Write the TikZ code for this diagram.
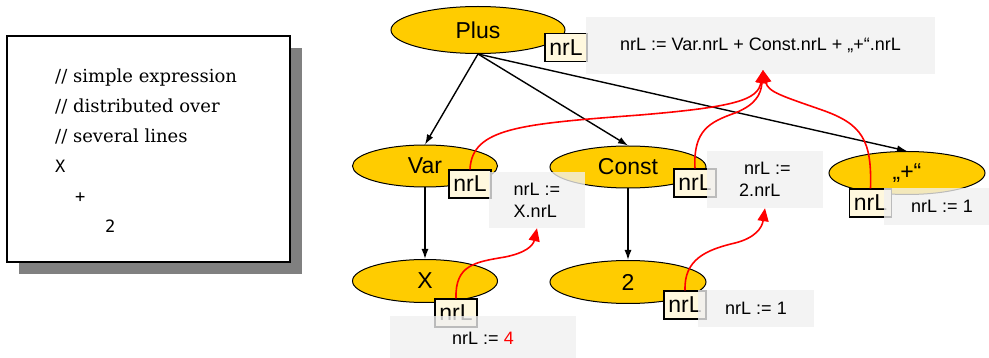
\documentclass[tikz,border=0pt]{standalone}
\usepackage{fontspec}
\setmainfont{Liberation Sans}
\newfontfamily\codeserif{DejaVu Serif}
\newfontfamily\codemono{DejaVu Sans Mono}
\usetikzlibrary{shapes.geometric,arrows.meta}
\definecolor{gold}{RGB}{255,204,0}
\definecolor{cream}{RGB}{255,248,222}
\definecolor{lgray}{RGB}{240,240,240}
\definecolor{shadowgray}{RGB}{128,128,128}
\begin{document}
\begin{tikzpicture}[x=1pt,y=-1pt,
  nodeell/.style={ellipse, draw=black, line width=1pt, fill=gold, inner sep=0pt, font=\fontsize{23}{26}\selectfont},
  attrbox/.style={rectangle, draw=black, line width=1.3pt, fill=cream, minimum width=42pt, minimum height=28pt, inner sep=0pt, font=\fontsize{23}{26}\selectfont},
  rulebox/.style={rectangle, fill=lgray, fill opacity=0.78, text opacity=1, inner sep=0pt, font=\fontsize{18}{22}\selectfont, align=left},
  tree/.style={-{Latex[length=10pt,width=7pt]}, line width=1.4pt},
  flow/.style={-{Triangle[length=13pt,width=11pt]}, red, line width=1.6pt},
  codeline/.style={anchor=base west, inner sep=0pt, font=\codeserif\fontsize{18}{22}\selectfont},
  monoline/.style={anchor=base west, inner sep=0pt, font=\codemono\fontsize{17}{20}\selectfont}]
\useasboundingbox (0,0) rectangle (989,358);
% code box
\fill[shadowgray] (19,48) rectangle (302,274);
\draw[line width=1.6pt, fill=white] (7,36) rectangle (290,262);
\node[codeline] (c1) at (55,83) {// simple expression};
\node[codeline] (c2) at (55,113) {// distributed over};
\node[codeline] (c3) at (55,143) {// several lines};
\node[monoline] (c4) at (55,173) {X};
\node[monoline] (c5) at (75,203) {+};
\node[monoline] (c6) at (105,233) {2};
% tree nodes
\node[nodeell, minimum width=174pt, minimum height=47pt] (plus) at (478,30) {Plus};
\node[nodeell, minimum width=145pt, minimum height=42pt] (var) at (425,166) {Var};
\node[nodeell, minimum width=156pt, minimum height=42pt] (const) at (628,167) {Const};
\node[nodeell, minimum width=156pt, minimum height=43pt] (plusq) at (907,173) {„+“};
\node[nodeell, minimum width=145pt, minimum height=43pt] (x) at (425,281) {X};
\node[nodeell, minimum width=156pt, minimum height=43pt] (two) at (628,282) {2};
% tree edges
\draw[tree] (plus.south) -- (var.north);
\draw[tree] (plus.south) -- (const.north);
\draw[tree] (plus.south) -- (plusq.north);
\draw[tree] (var.south) -- (x.north);
\draw[tree] (const.south) -- (two.north);
% attribute boxes
\node[attrbox] (nplus) at (566,47.5) {nrL};
\node[attrbox] (nvar) at (470,184) {nrL};
\node[attrbox] (nconst) at (695,183) {nrL};
\node[attrbox] (nplusq) at (870.5,203) {nrL};
\node[attrbox] (nx) at (456,313) {nrL};
\node[attrbox] (ntwo) at (685,305) {nrL};
% rule boxes
\node[rulebox, minimum width=349pt, minimum height=57pt] (gplus) at (760.5,45.5) {nrL := Var.nrL + Const.nrL + „+“.nrL};
\node[rulebox, minimum width=96pt, minimum height=56pt] (gvar) at (537,200) {nrL :=\\X.nrL};
\node[rulebox, minimum width=116pt, minimum height=57pt] (gconst) at (765,179.5) {\hspace*{5pt}nrL :=\\2.nrL};
\node[rulebox, minimum width=116pt, minimum height=37pt] (gplusq) at (942,206.5) {nrL := 1};
\node[rulebox, minimum width=186pt, minimum height=44pt] (gx) at (483,338) {nrL := \textcolor{red}{4}};
\node[rulebox, minimum width=116pt, minimum height=37pt] (gtwo) at (756,308.5) {nrL := 1};
\coordinate (tipP) at (763,70);
% attribute flow
\draw[flow] (nvar.north) .. controls (472,128) and (520,124) .. (640,115) .. controls (735,107) and (758,100) .. (tipP);
\draw[flow] (nconst.north) .. controls (693,130) and (710,122) .. (735,113) .. controls (755,105) and (761,95) .. (tipP);
\draw[flow] (nplusq.north) .. controls (872,140) and (862,124) .. (822,110) .. controls (782,96) and (768,92) .. (tipP);
\draw[flow] (nx.north) .. controls (455,265) and (475,262) .. (505,257) .. controls (525,253) and (533,246) .. (gvar.south);
\draw[flow] (ntwo.north) .. controls (684,260) and (705,250) .. (735,243) .. controls (755,238) and (762,228) .. (gconst.south);
\end{tikzpicture}
\end{document}
